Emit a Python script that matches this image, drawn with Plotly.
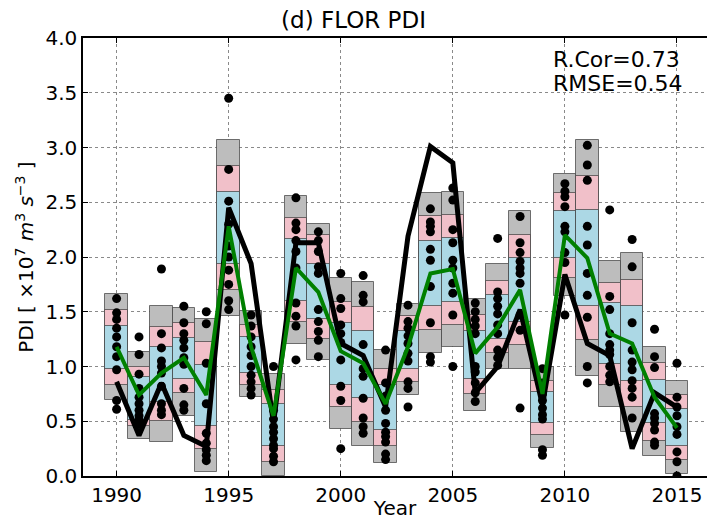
import plotly.graph_objects as go

years = list(range(1990, 2016))

# ensemble spread boxes (outer / middle / inner ranges)
gray_lo = [0.69, 0.34, 0.31, 0.55, 0.04, 1.46, 0.72, 0.00, 1.21, 1.06, 0.43, 0.27, 0.12,
           0.74, 1.12, 1.18, 0.59, 0.98, 0.98, 0.26, 1.64, 0.91, 0.63, 0.40, 0.18, 0.02]
gray_hi = [1.66, 1.13, 1.55, 1.53, 1.43, 3.07, 1.51, 0.93, 2.56, 2.30, 1.81, 1.77, 1.15,
           1.57, 2.58, 2.59, 1.62, 1.94, 2.42, 1.00, 2.76, 3.07, 1.96, 2.04, 1.18, 0.87]
pink_lo = [0.83, 0.46, 0.50, 0.76, 0.25, 1.70, 0.83, 0.13, 1.41, 1.25, 0.63, 0.49, 0.27,
           0.86, 1.33, 1.38, 0.75, 1.12, 1.20, 0.37, 1.81, 1.24, 0.83, 0.63, 0.32, 0.15]
pink_hi = [1.52, 1.00, 1.36, 1.40, 1.22, 2.83, 1.38, 0.79, 2.36, 2.20, 1.59, 1.54, 0.98,
           1.46, 2.37, 2.38, 1.47, 1.78, 2.20, 0.87, 2.58, 2.74, 1.76, 1.79, 1.03, 0.74]
blue_lo = [0.98, 0.51, 0.68, 0.89, 0.46, 1.94, 0.94, 0.27, 1.60, 1.43, 0.83, 0.71, 0.42,
           0.98, 1.55, 1.59, 0.89, 1.25, 1.41, 0.48, 1.99, 1.55, 1.02, 0.87, 0.48, 0.27]
blue_hi = [1.37, 0.90, 1.18, 1.26, 1.01, 2.59, 1.27, 0.66, 2.16, 1.94, 1.40, 1.32, 0.83,
           1.32, 2.15, 2.17, 1.32, 1.65, 1.99, 0.77, 2.42, 2.43, 1.58, 1.55, 0.88, 0.61]

# individual ensemble members per year
members = {
    1990: [1.62, 1.49, 1.43, 1.35, 1.27, 1.18, 1.09, 0.97, 0.69, 0.61],
    1991: [1.27, 1.11, 0.93, 0.80, 0.72, 0.66, 0.60, 0.55, 0.51, 0.47],
    1992: [1.89, 1.30, 1.17, 1.05, 0.94, 0.82, 0.66, 0.60, 0.56, 1.00],
    1993: [1.55, 1.40, 1.30, 1.24, 1.17, 1.08, 1.02, 0.80, 0.65, 0.60],
    1994: [1.50, 1.39, 1.03, 0.66, 0.39, 0.30, 0.24, 0.19, 0.14],
    1995: [3.45, 2.80, 2.51, 2.30, 2.10, 2.00, 1.88, 1.75, 1.60, 1.52],
    1996: [1.47, 1.37, 1.27, 1.18, 1.10, 1.00, 0.92, 0.86, 0.80, 0.74],
    1997: [1.00, 0.60, 0.52, 0.45, 0.40, 0.34, 0.28, 0.25, 0.18, 0.13],
    1998: [2.54, 2.31, 2.25, 2.15, 2.05, 1.90, 1.58, 1.46, 1.37, 1.06],
    1999: [2.23, 2.15, 2.05, 1.91, 1.85, 1.52, 1.41, 1.32, 1.24, 1.09],
    2000: [1.85, 1.62, 1.53, 1.38, 1.30, 1.22, 1.06, 0.82, 0.69, 0.25],
    2001: [1.83, 1.65, 1.59, 1.20, 0.98, 0.91, 0.71, 0.53, 0.45, 0.39],
    2002: [1.15, 0.85, 0.73, 0.60, 0.48, 0.40, 0.36, 0.31, 0.20, 0.15],
    2003: [1.56, 1.41, 1.35, 1.28, 1.21, 1.12, 1.05, 0.86, 0.80, 0.63],
    2004: [2.44, 2.32, 2.28, 2.23, 2.07, 1.97, 1.73, 1.40, 1.09, 1.04],
    2005: [2.63, 2.52, 2.25, 2.13, 1.97, 1.90, 1.76, 1.67, 1.47, 1.00],
    2006: [1.58, 1.50, 1.43, 1.37, 1.30, 1.00, 0.95, 0.85, 0.76, 0.68],
    2007: [2.17, 1.68, 1.62, 1.55, 1.48, 1.38, 1.30, 1.15, 1.08, 1.01],
    2008: [2.37, 2.13, 2.04, 1.96, 1.90, 1.85, 1.76, 1.47, 1.33, 0.62],
    2009: [0.98, 0.85, 0.75, 0.69, 0.62, 0.56, 0.52, 0.24, 0.19],
    2010: [2.67, 2.60, 2.55, 2.46, 2.28, 2.23, 2.04, 1.95, 1.47],
    2011: [3.02, 2.84, 2.70, 2.28, 2.11, 1.85, 1.65, 1.45, 1.00, 0.85],
    2012: [2.43, 1.64, 1.52, 1.30, 1.20, 1.15, 1.11, 1.00, 0.92, 0.86],
    2013: [2.16, 1.91, 1.40, 1.15, 1.04, 0.97, 0.87, 0.80, 0.72, 0.53],
    2014: [1.34, 1.09, 0.99, 0.57, 0.53, 0.48, 0.42, 0.31, 0.28],
    2015: [1.03, 0.72, 0.63, 0.55, 0.45, 0.38, 0.22, 0.13, 0.00],
}

observed = [0.86, 0.37, 0.85, 0.37, 0.27, 2.45, 1.94, 0.48, 2.13, 2.13, 1.21, 1.10, 0.63,
            2.19, 3.01, 2.86, 0.76, 1.00, 1.52, 0.65, 1.84, 1.21, 1.10, 0.25, 0.76, 0.63]
ens_mean = [1.18, 0.74, 0.94, 1.08, 0.74, 2.28, 1.18, 0.55, 1.90, 1.68, 1.14, 1.03, 0.66,
            1.18, 1.85, 1.89, 1.12, 1.36, 1.70, 0.75, 2.20, 1.99, 1.30, 1.21, 0.72, 0.44]

stats_text = ["R.Cor=0.73", "RMSE=0.54"]

FONT = "DejaVu Sans"
fig = go.Figure()

def add_box(lo, hi, color):
    fig.add_trace(go.Bar(
        x=years, y=[h - l for h, l in zip(hi, lo)], base=lo, width=1.0,
        marker=dict(color=color, line=dict(color="rgba(60,60,60,0.7)", width=1)),
        showlegend=False, hoverinfo="skip"))

add_box(gray_lo, gray_hi, "#bdbdbd")
add_box(pink_lo, pink_hi, "#f1c0c9")
add_box(blue_lo, blue_hi, "#acd8e5")

mx, my = [], []
for yr, vals in members.items():
    for v in vals:
        mx.append(yr)
        my.append(v)
fig.add_trace(go.Scatter(x=mx, y=my, mode="markers",
                         marker=dict(color="black", size=9), showlegend=False))

fig.add_trace(go.Scatter(x=years, y=observed, mode="lines",
                         line=dict(color="black", width=5), showlegend=False))
fig.add_trace(go.Scatter(x=years, y=ens_mean, mode="lines",
                         line=dict(color="#008000", width=4), showlegend=False))

for i, t in enumerate(stats_text):
    fig.add_annotation(text=t, xref="paper", yref="paper", x=0.750, y=0.951 - i * 0.054,
                       xanchor="left", yanchor="middle", showarrow=False,
                       font=dict(family=FONT, size=22, color="black"))

fig.update_layout(
    width=707, height=520,
    margin=dict(l=83, r=0, t=38, b=44),
    plot_bgcolor="white", paper_bgcolor="white",
    barmode="overlay", bargap=0,
    title=dict(text="(d) FLOR PDI", x=0.5, xanchor="center", y=0.962, yanchor="middle",
               font=dict(family=FONT, size=23, color="black")),
    font=dict(family=FONT, color="black"),
)
fig.update_xaxes(range=[1988.5, 2016.34], tickvals=[1990, 1995, 2000, 2005, 2010, 2015],
                 ticks="inside", ticklen=5, tickcolor="black", mirror="ticks",
                 showline=True, linecolor="black", linewidth=1.5, automargin=False,
                 showgrid=True, gridcolor="#8a8a8a", griddash="dot", gridwidth=1,
                 zeroline=False, tickfont=dict(family=FONT, size=20),
                 title=dict(text="Year", font=dict(family=FONT, size=20), standoff=2))
fig.update_yaxes(range=[0, 4], dtick=0.5, tickformat=".1f",
                 ticks="inside", ticklen=5, tickcolor="black", automargin=False,
                 showline=True, linecolor="black", linewidth=1.5,
                 showgrid=True, gridcolor="#8a8a8a", griddash="dot", gridwidth=1,
                 zeroline=False, tickfont=dict(family=FONT, size=20),
                 title=dict(text="PDI [ ×10<sup>7</sup> <i>m</i><sup>3</sup> <i>s</i><sup>−3</sup> ]",
                            font=dict(family=FONT, size=20), standoff=6))

fig.write_html("out.html", post_script="document.body.style.margin='0';",
               config={"displayModeBar": False})
